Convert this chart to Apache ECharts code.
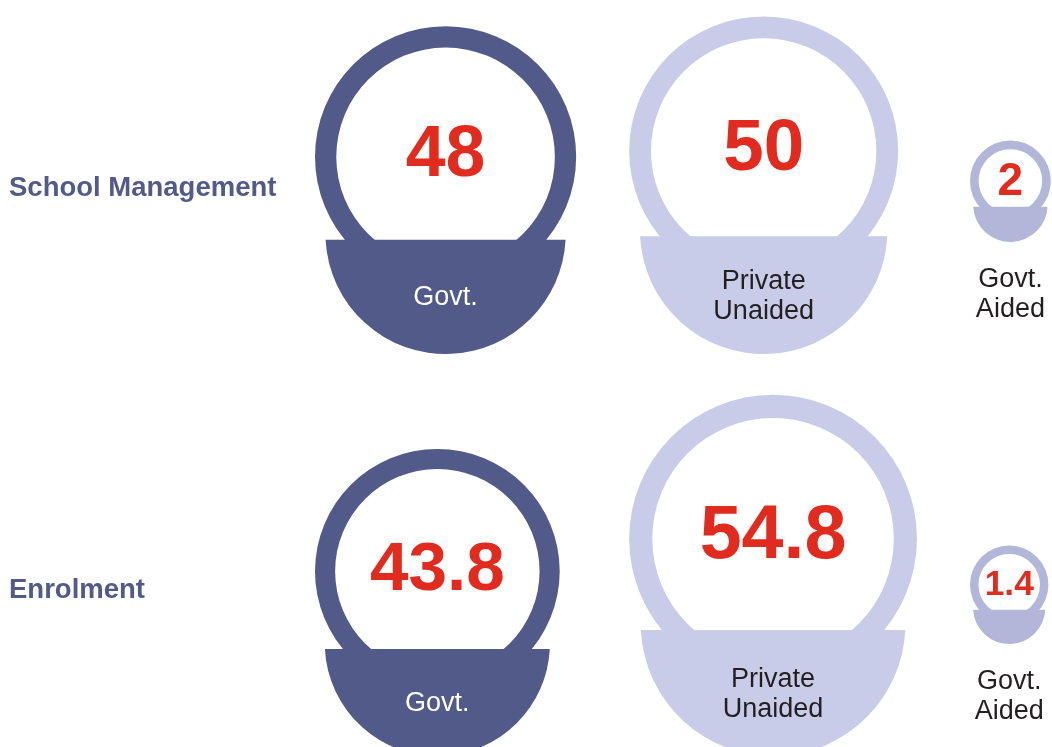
<!DOCTYPE html>
<html>
<head>
<meta charset="utf-8">
<title>School Management and Enrolment</title>
<script src="https://cdn.jsdelivr.net/npm/echarts@6/dist/echarts.min.js"></script>
<style>
html, body { margin: 0; padding: 0; background: #fff; }
#chart { width: 1052px; height: 747px; }
</style>
</head>
<body>
<div id="chart"></div>
<script>
// data (%)
const rows = ['School Management', 'Enrolment'];
const types = ['Govt.', 'Private\nUnaided', 'Govt.\nAided'];
const schoolManagement = [48, 50, 2];
const enrolment = [43.8, 54.8, 1.4];

// styles
const ringColors = ['#525A8A', '#C8CCE8', '#B2B6D8'];
const labelColors = ['#ffffff', '#231F20', '#231F20'];
const RED = '#E02B1E';
const FONT = '"Liberation Sans", Arial, sans-serif';

// radius scale, value -> px
const radius = v => echarts.number.linearMap(v, [0, 60], [36.5, 154.1]);
const thickness = r => 3 + 0.14 * r;

const allRows = [schoolManagement, enrolment];
const seriesData = [];
allRows.forEach((vals, ri) => vals.forEach((v, ci) => seriesData.push([ci, ri, v])));

// columns packed left to right, bubbles left aligned in their column
const startX = 315, gapX = 53;
const colLeft = [];
let cursor = startX;
types.forEach((t, ci) => {
    colLeft.push(cursor);
    const maxR = Math.max.apply(null, allRows.map(vals => radius(vals[ci])));
    cursor += 2 * maxR + gapX;
});

const measureCtx = document.createElement('canvas').getContext('2d');
measureCtx.font = 'bold 100px ' + FONT;
function emWidth(text) {
    return measureCtx.measureText(text).width / 100;
}

function renderItem(params, api) {
    const ci = api.value(0);
    const ri = api.value(1);
    const v = api.value(2);
    const rowY = api.coord([0, ri])[1];
    const r = radius(v);
    const t = thickness(r);
    const small = r < 80;
    const cx = colLeft[ci] + r;
    const cy = small ? rowY + 54 - 1.51 * r : rowY + 166 - 1.51 * r;
    const color = ringColors[ci];

    // bowl: lower part of a circle, flat top
    const bR = 0.92 * r;
    const bCy = cy + 0.59 * r;
    const chordY = cy + 0.635 * r;
    const dy = chordY - bCy;
    const hw = Math.sqrt(bR * bR - dy * dy);
    const bottom = bCy + bR;
    const path = 'M' + (cx - hw) + ' ' + chordY + ' A' + bR + ' ' + bR + ' 0 0 0 ' + (cx + hw) + ' ' + chordY + ' Z';

    const txt = String(v);
    const fs = Math.min(34.6 + 0.284 * r, 0.8 * 2 * (r - t) / emWidth(txt));

    const labelY = small ? bottom + 53 : cy + 1.08 * r;

    return {
        type: 'group',
        children: [
            { type: 'circle', shape: { cx: cx, cy: cy, r: r }, style: { fill: color } },
            { type: 'circle', shape: { cx: cx, cy: cy, r: r - t }, style: { fill: '#fff' } },
            {
                type: 'path',
                shape: { pathData: path, x: cx - hw, y: chordY, width: 2 * hw, height: bottom - chordY, layout: 'cover' },
                style: { fill: color }
            },
            {
                type: 'text',
                style: {
                    text: txt, x: cx, y: cy - 0.05 * r + 0.08 * fs,
                    fill: RED, fontSize: fs, fontWeight: 'bold', fontFamily: FONT,
                    align: 'center', verticalAlign: 'middle'
                }
            },
            {
                type: 'text',
                style: {
                    text: types[ci], x: cx, y: labelY,
                    fill: small ? '#231F20' : labelColors[ci], fontSize: 27, lineHeight: 30, fontFamily: FONT,
                    align: 'center', verticalAlign: 'middle'
                }
            }
        ]
    };
}

const myChart = echarts.init(document.getElementById('chart'));
myChart.setOption({
    animation: false,
    grid: { left: 9, right: 0, top: 188, bottom: 157 },
    xAxis: { type: 'value', min: 0, max: 1, show: false },
    yAxis: {
        type: 'category',
        data: rows,
        inverse: true,
        boundaryGap: false,
        axisLine: { show: false },
        axisTick: { show: false },
        splitLine: { show: false },
        axisLabel: {
            inside: true,
            margin: 0,
            color: '#525A8A',
            fontSize: 27.5,
            fontWeight: 'bold',
            fontFamily: FONT
        }
    },
    series: [{
        type: 'custom',
        renderItem: renderItem,
        data: seriesData,
        clip: false
    }]
});
</script>
</body>
</html>
